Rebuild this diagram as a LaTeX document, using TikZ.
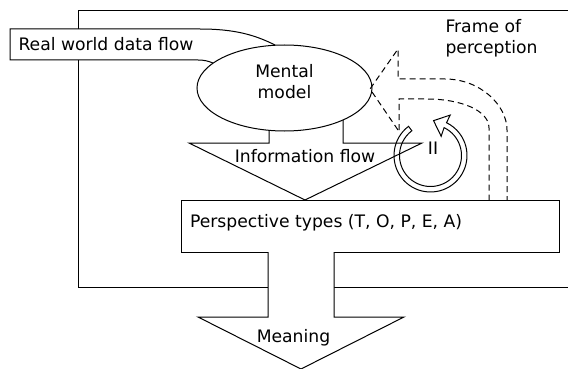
\documentclass[tikz,border=0pt]{standalone}
\usepackage{fontspec}
\setmainfont{DejaVu Sans}
\usetikzlibrary{positioning}
\usetikzlibrary{shapes.geometric}
\usetikzlibrary{calc}

\begin{document}
\begin{tikzpicture}[
        x=1pt, y=-1pt,
        line width=1pt,
        bubble/.style={ellipse, draw, fill=white, minimum width=175pt, minimum height=86pt, inner sep=0pt},
        panel/.style={rectangle, draw, fill=white, minimum width=378pt, minimum height=52pt, inner sep=0pt},
        blockarrow/.style={draw, fill=white},
        perception/.style={dash pattern=on 6pt off 4pt},
        lbl/.style={font=\fontsize{17.2}{21}\selectfont, inner sep=0pt}
    ]
        \useasboundingbox (0,0) rectangle (568,369);
        \clip (0,0) rectangle (568,369);

        % Outer frame
        \draw (78,11) rectangle (600,287);

        % Real world data flow
        \fill[white] (10,29) -- (200,29) .. controls (235,29) and (255,35) .. (275,45) -- (284,88) -- (213,63) .. controls (208,61) and (204,60) .. (198,60) -- (10,60) -- cycle;
        \draw (213,63) .. controls (208,61) and (204,60) .. (198,60) -- (10,60) -- (10,29) -- (200,29) .. controls (235,29) and (255,35) .. (275,45);
        \node[lbl, anchor=base west] (realtxt) at (18,50.7) {Real world data flow};

        % Information flow
        \draw (269,110) -- (269,143) -- (189,143) -- (305,200) -- (422,143) -- (343,143) -- (343,110);
        \node[lbl, anchor=base] (infotxt) at (305,162) {Information flow};

        % Mental model
        \node[bubble] (mental) at (284.5,88) {};
        \node[lbl, align=center] (mentaltxt) at ([yshift=6.5pt]mental.center) {Mental\\model};

        % Loop
        \coordinate (loopc) at (430.5,155.5);
        \draw (loopc) ++(127:36.5pt) arc[start angle=127, end angle=424, radius=36.5pt]
            -- ($(loopc)+(64:45pt)$) -- ($(loopc)+(85:35pt)$) -- ($(loopc)+(61:22pt)$)
            -- ($(loopc)+(64:31pt)$) arc[start angle=424, end angle=127, radius=31pt] -- cycle;
        \node[lbl, anchor=base] (looptxt) at (433,154) {II};

        % Frame of perception
        \draw[perception] (398,130) -- (370,89) -- (398,49) -- (398,79) -- (445,79) .. controls (480,79) and (507,105) .. (507,130) -- (507,200);
        \draw[perception] (399,130) -- (399,99) -- (427,99) .. controls (460,99) and (489,110) .. (489,128) -- (489,200);
        \node[lbl, align=left, anchor=north west] (frametxt) at (445,19) {Frame of\\perception};

        % Perspective types
        \node[panel] (persp) at (370,226) {};
        \node[lbl, anchor=base west] (persptxt) at ([xshift=9pt, yshift=-1pt]persp.west) {Perspective types (T, O, P, E, A)};

        % Meaning
        \draw[blockarrow] (268,252) -- (268,317) -- (198,317) -- (301,369) -- (404,317) -- (334,317) -- (334,252);
        \node[lbl, anchor=base] (meaningtxt) at (293.5,342) {Meaning};
\end{tikzpicture}
\end{document}
